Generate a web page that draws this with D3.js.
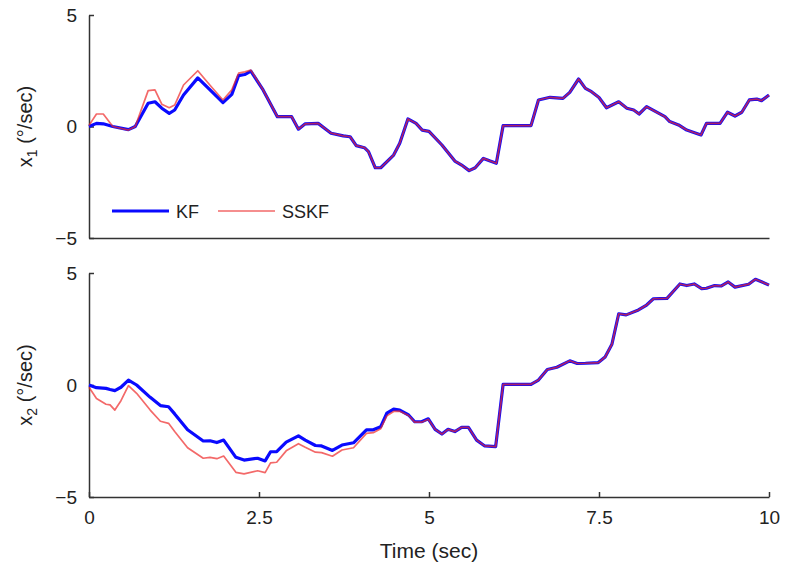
<!DOCTYPE html>
<html>
<head>
	<meta charset="utf-8">
	<title></title>
	<style>
		html, body {
			margin: 0;
			background: white;
			font-family: "Liberation Sans", Arial, sans-serif;
		}
		.axis path, .axis line { stroke: #333; stroke-width: 1.5; }
		.axis text { fill: #222; font-size: 19px; font-family: "Liberation Sans", Arial, sans-serif; }
	</style>
</head>
<body>

<svg class="diagram" width="785" height="568"></svg>

<script src="https://d3js.org/d3.v7.min.js"></script>
<script>

// top panel: x1
var t1 = [0, 0.11, 0.21, 0.35, 0.58, 0.68, 0.87, 0.97, 1.07, 1.18, 1.26, 1.39, 1.6, 1.78, 1.97, 2.1, 2.2, 2.29, 2.38, 2.56,
	2.77, 2.98, 3.08, 3.18, 3.37, 3.56, 3.74, 3.84, 3.93, 4.05, 4.11, 4.21, 4.29, 4.48, 4.57, 4.69, 4.81, 4.9, 5.0, 5.19,
	5.38, 5.48, 5.59, 5.68, 5.8, 5.9, 5.99, 6.09, 6.5, 6.61, 6.78, 6.97, 7.07, 7.2, 7.3, 7.39, 7.5, 7.61, 7.79, 7.91,
	8.01, 8.09, 8.2, 8.47, 8.54, 8.67, 8.79, 9.0, 9.08, 9.28, 9.39, 9.5, 9.6, 9.71, 9.82, 9.89, 10.0]
var kf1 = [0, 0.14, 0.12, 0, -0.14, 0, 1.04, 1.11, 0.82, 0.59, 0.74, 1.41, 2.18, 1.64, 1.07, 1.44, 2.28, 2.33, 2.48, 1.64,
	0.44, 0.44, -0.12, 0.12, 0.14, -0.3, -0.42, -0.46, -0.86, -0.95, -1.13, -1.85, -1.85, -1.28, -0.75, 0.34, 0.14, -0.16, -0.22, -0.83,
	-1.55, -1.73, -1.98, -1.85, -1.43, -1.55, -1.65, 0.04, 0.04, 1.19, 1.31, 1.26, 1.53, 2.13, 1.71, 1.56, 1.3, 0.84, 1.11, 0.82,
	0.74, 0.56, 0.89, 0.44, 0.22, 0.07, -0.16, -0.38, 0.14, 0.14, 0.64, 0.47, 0.64, 1.19, 1.23, 1.16, 1.41]
var sskf1 = [0.05, 0.56, 0.56, 0, -0.16, 0, 1.61, 1.64, 1.0, 0.84, 0.96, 1.86, 2.5, 1.85, 1.19, 1.64, 2.39, 2.45, 2.53, 1.64,
	0.44, 0.44, -0.12, 0.12, 0.14, -0.3, -0.42, -0.46, -0.86, -0.95, -1.13, -1.85, -1.85, -1.28, -0.75, 0.34, 0.14, -0.16, -0.22, -0.83,
	-1.55, -1.73, -1.98, -1.85, -1.43, -1.55, -1.65, 0.04, 0.04, 1.19, 1.31, 1.26, 1.53, 2.13, 1.71, 1.56, 1.3, 0.84, 1.11, 0.82,
	0.74, 0.56, 0.89, 0.44, 0.22, 0.07, -0.16, -0.38, 0.14, 0.14, 0.64, 0.47, 0.64, 1.19, 1.23, 1.16, 1.41]

// bottom panel: x2
var t2 = [0, 0.11, 0.25, 0.31, 0.38, 0.47, 0.58, 0.7, 0.9, 1.05, 1.17, 1.26, 1.45, 1.68, 1.78, 1.88, 1.98, 2.16, 2.28, 2.48,
	2.59, 2.67, 2.76, 2.9, 3.08, 3.18, 3.33, 3.42, 3.58, 3.72, 3.89, 4.08, 4.18, 4.29, 4.38, 4.48, 4.57, 4.7, 4.79, 4.89,
	4.99, 5.09, 5.19, 5.28, 5.38, 5.48, 5.58, 5.7, 5.82, 5.98, 6.09, 6.5, 6.61, 6.74, 6.88, 7.07, 7.18, 7.3, 7.49, 7.59,
	7.69, 7.79, 7.9, 8.08, 8.2, 8.3, 8.5, 8.69, 8.79, 8.9, 9.01, 9.08, 9.2, 9.3, 9.4, 9.5, 9.7, 9.8, 9.89, 10.0]
var kf2 = [0, -0.12, -0.15, -0.2, -0.25, -0.1, 0.22, 0, -0.55, -0.92, -0.97, -1.29, -2.0, -2.5, -2.49, -2.57, -2.46, -3.23, -3.35, -3.27,
	-3.39, -2.98, -2.97, -2.55, -2.27, -2.46, -2.7, -2.72, -2.92, -2.68, -2.58, -2.0, -2.0, -1.86, -1.26, -1.08, -1.12, -1.34, -1.64, -1.64,
	-1.51, -1.98, -2.19, -1.98, -2.08, -1.89, -1.89, -2.46, -2.72, -2.75, 0.03, 0.03, 0.22, 0.69, 0.79, 1.08, 0.96, 0.97, 1.0, 1.25,
	1.82, 3.18, 3.13, 3.35, 3.57, 3.85, 3.87, 4.51, 4.44, 4.51, 4.3, 4.32, 4.44, 4.42, 4.6, 4.37, 4.5, 4.72, 4.61, 4.46]
var sskf2 = [-0.1, -0.6, -0.86, -0.89, -1.12, -0.7, -0.03, -0.37, -1.12, -1.62, -1.71, -2.08, -2.8, -3.27, -3.23, -3.29, -3.17, -3.9, -3.97, -3.83,
	-3.91, -3.48, -3.45, -2.94, -2.62, -2.78, -3.0, -3.02, -3.18, -2.9, -2.8, -2.16, -2.13, -1.95, -1.38, -1.18, -1.17, -1.36, -1.66, -1.66,
	-1.53, -1.98, -2.19, -1.98, -2.08, -1.89, -1.89, -2.46, -2.72, -2.75, 0.03, 0.03, 0.22, 0.69, 0.79, 1.08, 0.96, 0.97, 1.0, 1.25,
	1.82, 3.18, 3.13, 3.35, 3.57, 3.85, 3.87, 4.51, 4.44, 4.51, 4.3, 4.32, 4.44, 4.42, 4.6, 4.37, 4.5, 4.72, 4.61, 4.46]

var xTicks = [0, 2.5, 5, 7.5, 10]
var yTicks = [-5, 0, 5]
var seriesNames = ['KF', 'SSKF']
var seriesColors = ['#0a0aff', '#ee2a2a']

var cfg = {
	left: 89,
	right: 769,
	panels: [[15, 238], [273, 497]],
	tick: 5,
}

var svg = d3.select('.diagram')

var x = d3.scaleLinear().domain([0, 10]).range([cfg.left, cfg.right])

var panels = [
	{ t: t1, kf: kf1, sskf: sskf1, sub: '1', xlabels: false },
	{ t: t2, kf: kf2, sskf: sskf2, sub: '2', xlabels: true },
]

panels.forEach(function(p, i) {
	var top = cfg.panels[i][0], bottom = cfg.panels[i][1]
	var y = d3.scaleLinear().domain([-5, 5]).range([bottom, top])
	var g = svg.append('g')

	// y axis, ticks pointing in
	g.append('g')
		.attr('class', 'axis')
		.attr('transform', 'translate(' + cfg.left + ',0)')
		.call(d3.axisLeft(y).tickValues(yTicks).tickSizeInner(-cfg.tick).tickSizeOuter(0).tickPadding(12))

	// x axis
	var xa = d3.axisBottom(x).tickValues(xTicks).tickSizeOuter(0)
	if (p.xlabels) {
		xa.tickSizeInner(-cfg.tick).tickPadding(14).tickFormat(d3.format('~g'))
	} else {
		xa.tickSizeInner(0).tickFormat('')
	}
	g.append('g')
		.attr('class', 'axis')
		.attr('transform', 'translate(0,' + bottom + ')')
		.call(xa)

	// the lines, KF under SSKF
	var line = d3.line()
		.x(function(d) { return x(d[0]) })
		.y(function(d) { return y(d[1]) })

	g.append('path')
		.datum(d3.zip(p.t, p.kf))
		.attr('d', line)
		.attr('fill', 'none')
		.attr('stroke', seriesColors[0])
		.attr('stroke-width', 3.2)
		.attr('stroke-linejoin', 'round')

	g.append('path')
		.datum(d3.zip(p.t, p.sskf))
		.attr('d', line)
		.attr('fill', 'none')
		.attr('stroke', seriesColors[1])
		.attr('stroke-width', 1.7)
		.attr('stroke-linejoin', 'round')
		.attr('opacity', 0.7)

	// y label
	var lab = g.append('text')
		.attr('transform', 'translate(32,' + ((top + bottom) / 2) + ') rotate(-90)')
		.attr('text-anchor', 'middle')
		.attr('font-size', 20)
		.attr('fill', '#222')
	lab.append('tspan').text('x')
	lab.append('tspan').attr('font-size', 14).attr('dy', 5).text(p.sub)
	lab.append('tspan').attr('dy', -5).text(' (°/sec)')
})

// x label
svg.append('text')
	.attr('x', (cfg.left + cfg.right) / 2)
	.attr('y', 558)
	.attr('text-anchor', 'middle')
	.attr('font-size', 21)
	.attr('fill', '#222')
	.text('Time (sec)')

// legend
var legend = svg.append('g').attr('transform', 'translate(112,211)')
var legX = [0, 106]
seriesNames.forEach(function(name, i) {
	legend.append('line')
		.attr('x1', legX[i]).attr('x2', legX[i] + 57)
		.attr('stroke', seriesColors[i])
		.attr('stroke-width', i == 0 ? 3.2 : 1.7)
		.attr('opacity', i == 0 ? 1 : 0.7)
	legend.append('text')
		.attr('x', legX[i] + 64)
		.attr('y', 7)
		.attr('font-size', 18)
		.attr('fill', '#222')
		.text(name)
})

</script>

</body>
</html>
